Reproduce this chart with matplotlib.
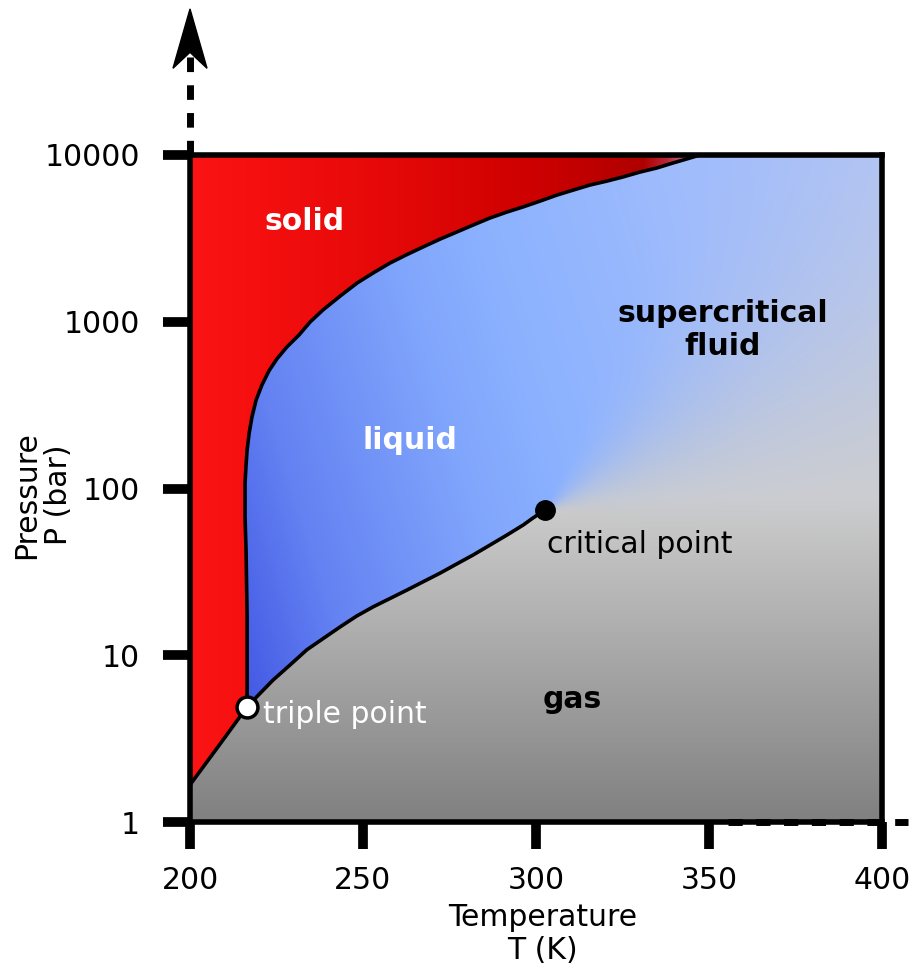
import numpy as np
import matplotlib
matplotlib.use("Agg")
import matplotlib.pyplot as plt
from matplotlib.patches import Polygon

# CO2 phase boundaries, temperature in K, pressure in bar
sub_T = [200.0, 208.5, 216.5]
sub_P = [1.67, 2.9, 4.9]

vap_T = [216.5, 219.3, 224.0, 228.9, 233.8, 238.5, 243.4, 248.2, 252.9, 257.8, 262.7,
         267.4, 272.3, 277.1, 281.8, 286.7, 291.6, 296.3, 299.1, 302.6]
vap_P = [4.9, 5.64, 7.1, 8.74, 10.8, 12.6, 14.8, 17.2, 19.5, 21.9, 24.6,
         27.6, 31.1, 35.3, 39.9, 45.8, 52.6, 60.4, 66.5, 74.3]

melt_T = [216.5, 216.5, 216.5, 216.2, 215.9, 215.9, 216.2, 216.5, 217.1, 217.9, 219.1,
          220.8, 222.8, 225.1, 228.0, 231.5, 234.7, 238.4, 243.4, 248.3, 252.9,
          257.8, 262.4, 267.3, 272.3, 277.1, 281.8, 286.7, 291.6, 296.2, 301.2, 306.1,
          310.7, 315.6, 320.5, 325.1, 330.1, 334.9, 339.6, 344.5, 347.4]
melt_P = [4.9, 6.8, 17, 42.8, 67.5, 108, 138, 170, 215, 268, 339,
          418, 507, 598, 706, 833, 996, 1176, 1426, 1708, 1960,
          2250, 2512, 2806, 3133, 3453, 3801, 4190, 4549, 4877, 5294, 5755,
          6156, 6607, 6975, 7380, 7907, 8357, 8958, 9594, 10000]

triple = (216.5, 4.9)
critical = (302.6, 74.3)

x_ticks = [200, 250, 300, 350, 400]
y_ticks = [1, 10, 100, 1000, 10000]
T_min, T_max = 200, 400
P_min, P_max = 1, 10000

FS = 21.5


def ramp(x, stops, cols):
    cols = np.array(cols, dtype=float) / 255.0
    return np.stack([np.interp(x, stops, cols[:, k]) for k in range(3)], axis=-1)


def smoothstep(x):
    x = np.clip(x, 0, 1)
    return x * x * (3 - 2 * x)


# background colouring on a grid in (T, log P)
nx, ny = 1000, 1000
u = np.linspace(0, 1, nx)
v = np.linspace(0, 1, ny)
U, V = np.meshgrid(u, v)
T = T_min + (T_max - T_min) * U
lp = np.log10(P_min) + (np.log10(P_max) - np.log10(P_min)) * V

lp_tp = np.log10(triple[1])
T_melt = np.interp(lp, np.log10(melt_P), melt_T)
lp_sub = np.interp(T, sub_T, np.log10(sub_P))
solid = np.where(lp >= lp_tp, T < T_melt, (lp > lp_sub) & (T < triple[0]))

bound_T = sub_T + vap_T[1:]
bound_lp = np.log10(sub_P + vap_P[1:])
above = lp > np.interp(T, bound_T, bound_lp)

# beyond the critical point liquid fades smoothly into gas
du = (T - critical[0]) / (T_max - T_min)
dv = (lp - np.log10(critical[1])) / 4.0
theta = np.degrees(np.arctan2(dv, du))
alpha_right = smoothstep((theta - 30.0) / 80.0 + 0.5)
alpha = np.where(T <= critical[0], above.astype(float), alpha_right)

gray = np.clip(128 + 160 * V, 0, 206)[..., None] / 255.0 * np.ones(3)
s = U + 0.3 * V
blue = ramp(s, [0.1, 0.3, 0.55, 0.7, 1.0, 1.3],
            [(60, 80, 225), (100, 130, 242), (128, 165, 252), (140, 178, 255),
             (160, 188, 252), (172, 194, 250)])
fluid = alpha[..., None] * blue + (1 - alpha[..., None]) * gray

red = ramp(U, [0.0, 0.1, 0.3, 0.5, 0.62, 0.655, 0.69, 0.725, 0.76],
           [(252, 20, 20), (245, 15, 15), (228, 8, 8), (205, 0, 0), (182, 0, 0),
            (175, 0, 0), (185, 40, 55), (195, 130, 160), (170, 190, 250)])

img = np.where(solid[..., None], red, fluid)

fig = plt.figure(figsize=(9.16, 9.68), dpi=100)
rect = [190 / 916, 146 / 968, 692 / 916, 667 / 968]

bg = fig.add_axes(rect, zorder=0)
bg.imshow(img, origin="lower", extent=(0, 1, 0, 1), aspect="auto")
bg.set_axis_off()

ax = fig.add_axes(rect, zorder=1)
ax.set_facecolor("none")
ax.set_yscale("log")
ax.set_xlim(T_min, T_max)
ax.set_ylim(P_min, P_max)

# boundary lines
line_kw = dict(color="black", lw=2.6, solid_capstyle="round", solid_joinstyle="round")
ax.plot(sub_T, sub_P, **line_kw)
ax.plot(vap_T, vap_P, **line_kw)
ax.plot(melt_T, melt_P, **line_kw)

ax.plot(*critical, "o", color="black", ms=14, zorder=5)
ax.plot(*triple, "o", mfc="white", mec="black", mew=2.5, ms=15, zorder=5)

# region labels
ax.text(233.2, 3966, "solid", color="white", fontsize=FS, fontweight="bold",
        ha="center", va="center")
ax.text(263.6, 195, "liquid", color="white", fontsize=FS, fontweight="bold",
        ha="center", va="center")
ax.text(354, 893, "supercritical\nfluid", color="black", fontsize=FS,
        fontweight="bold", ha="center", va="center", linespacing=1.2)
ax.text(310.4, 4.83, "gas", color="black", fontsize=FS, fontweight="bold",
        ha="center", va="baseline")
ax.text(303.2, 41.0, "critical point", color="black", fontsize=FS,
        ha="left", va="baseline")
ax.text(221.1, 3.93, "triple point", color="white", fontsize=FS,
        ha="left", va="baseline")

# axes styling
for side in ["left", "right", "top", "bottom"]:
    ax.spines[side].set_linewidth(4)
    ax.spines[side].set_color("black")
    ax.spines[side].set_zorder(6)

ax.set_xticks(x_ticks)
ax.set_xticklabels([str(t) for t in x_ticks])
ax.set_yticks(y_ticks)
ax.set_yticklabels([str(t) for t in y_ticks])
ax.minorticks_off()
ax.tick_params(axis="both", direction="out", length=19.5, width=7, labelsize=FS,
               colors="black")
ax.tick_params(axis="x", pad=12)
ax.tick_params(axis="y", pad=16.5)

ax.set_xlabel("Temperature\nT (K)", fontsize=FS, va="center", linespacing=1.15)
ax.xaxis.set_label_coords(0.509, -0.168)
ax.set_ylabel("Pressure\nP (bar)", fontsize=FS, va="center", linespacing=1.15)
ax.yaxis.set_label_coords(-0.213, 0.49)

# dashed pressure arrow above the plot
ax.plot([0, 0], [1.147, 1.0], transform=ax.transAxes, color="black", lw=5,
        dashes=(2.1, 1.9), clip_on=False, solid_capstyle="butt")
head = Polygon([(0, 1.219), (-0.0246, 1.130), (0, 1.154), (0.0246, 1.130)],
               closed=True, transform=ax.transAxes, facecolor="black",
               edgecolor="black", lw=1, clip_on=False)
ax.add_patch(head)

# dashed temperature line along the bottom edge
ax.plot([355.5, 407.5], [1, 1], color="black", lw=5, dashes=(2.05, 1.95),
        clip_on=False, zorder=2, solid_capstyle="butt")

fig.savefig("out.png", dpi=100, facecolor="white")
